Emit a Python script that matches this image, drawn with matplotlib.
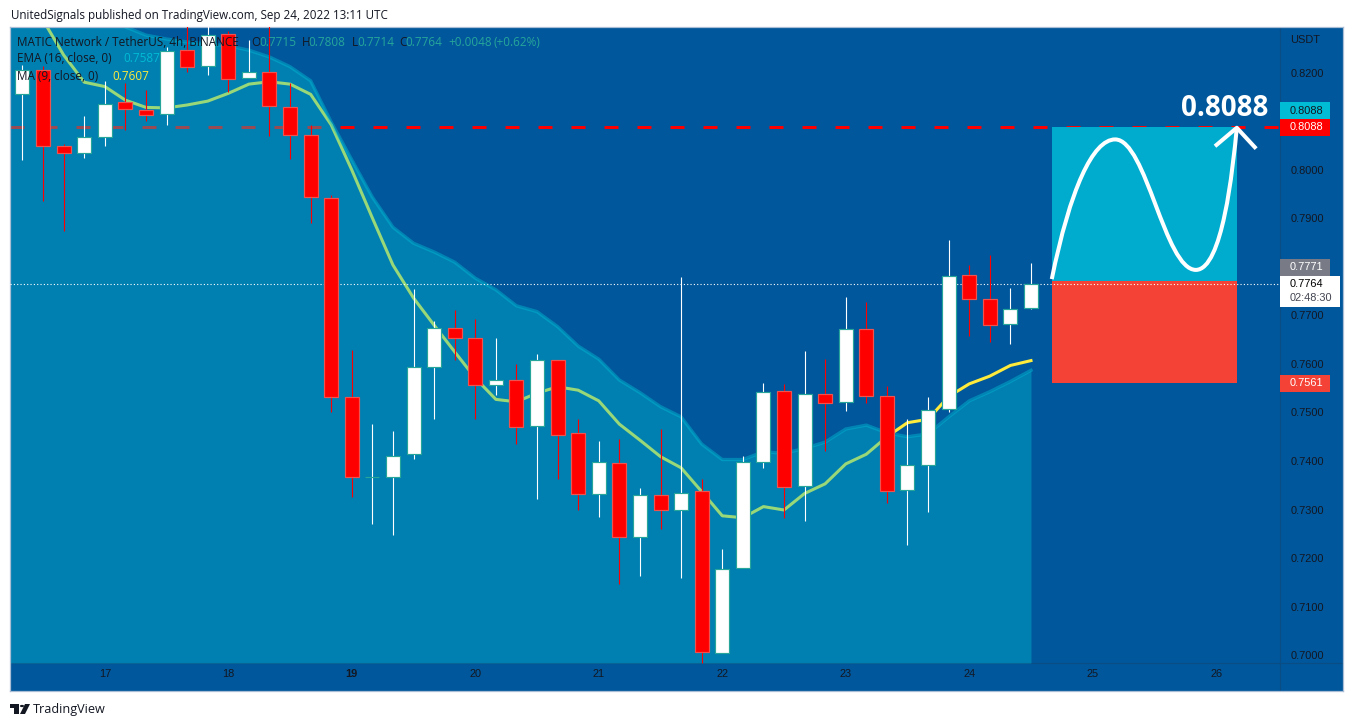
import numpy as np
from matplotlib import pyplot as plt
from matplotlib.patches import Rectangle, Polygon, Circle, PathPatch
from matplotlib.path import Path

# 4h candles
opens = [0.8156, 0.8206, 0.8049, 0.8034, 0.8068, 0.8141, 0.8124, 0.8115, 0.8247, 0.8214,
         0.8280, 0.8189, 0.8201, 0.8129, 0.8072, 0.7942, 0.7531, 0.7368, 0.7368, 0.7414,
         0.7593, 0.7674, 0.7653, 0.7557, 0.7566, 0.7472, 0.7608, 0.7457, 0.7331, 0.7395,
         0.7244, 0.7329, 0.7300, 0.7338, 0.7004, 0.7179, 0.7397, 0.7544, 0.7348, 0.7539,
         0.7521, 0.7672, 0.7533, 0.7340, 0.7391, 0.7507, 0.7783, 0.7733, 0.7682, 0.7715]
highs = [0.8216, 0.8215, 0.8054, 0.8111, 0.8184, 0.8179, 0.8165, 0.8254, 0.8300, 0.8300,
         0.8287, 0.8268, 0.8300, 0.8179, 0.8092, 0.7948, 0.7629, 0.7476, 0.7462, 0.7755,
         0.7688, 0.7711, 0.7692, 0.7654, 0.7600, 0.7621, 0.7608, 0.7486, 0.7441, 0.7445,
         0.7344, 0.7466, 0.7779, 0.7362, 0.7218, 0.7410, 0.7560, 0.7559, 0.7626, 0.7610,
         0.7738, 0.7728, 0.7555, 0.7486, 0.7531, 0.7856, 0.7804, 0.7824, 0.7757, 0.7808]
lows = [0.8021, 0.7936, 0.7875, 0.8025, 0.8050, 0.8083, 0.8102, 0.8093, 0.8203, 0.8196,
        0.8161, 0.8189, 0.8071, 0.8023, 0.7891, 0.7500, 0.7326, 0.7271, 0.7247, 0.7404,
        0.7487, 0.7608, 0.7486, 0.7536, 0.7436, 0.7322, 0.7363, 0.7299, 0.7285, 0.7146,
        0.7163, 0.7260, 0.7159, 0.6984, 0.7004, 0.7179, 0.7386, 0.7283, 0.7276, 0.7421,
        0.7503, 0.7520, 0.7313, 0.7227, 0.7295, 0.7500, 0.7658, 0.7646, 0.7641, 0.7714]
closes = [0.8206, 0.8049, 0.8034, 0.8069, 0.8137, 0.8125, 0.8114, 0.8246, 0.8213, 0.8279,
          0.8187, 0.8201, 0.8131, 0.8072, 0.7944, 0.7531, 0.7368, 0.7368, 0.7411, 0.7593,
          0.7674, 0.7654, 0.7557, 0.7566, 0.7471, 0.7608, 0.7454, 0.7331, 0.7397, 0.7244,
          0.7329, 0.7300, 0.7335, 0.7006, 0.7178, 0.7397, 0.7543, 0.7347, 0.7539, 0.7519,
          0.7672, 0.7533, 0.7338, 0.7392, 0.7506, 0.7782, 0.7735, 0.7681, 0.7714, 0.7764]

# ema starts one bar before the first candle
ema16 = [0.8450, 0.8430, 0.8410, 0.8390, 0.8360, 0.8320, 0.8295, 0.8278, 0.8270, 0.8264, 0.8260,
         0.8256, 0.8247, 0.8233, 0.8213, 0.8184, 0.8099, 0.8021, 0.7944, 0.7882, 0.7849,
         0.7831, 0.7810, 0.7777, 0.7753, 0.7720, 0.7708, 0.7677, 0.7637, 0.7610, 0.7567,
         0.7541, 0.7512, 0.7491, 0.7435, 0.7403, 0.7403, 0.7419, 0.7416, 0.7426, 0.7439,
         0.7466, 0.7474, 0.7458, 0.7450, 0.7456, 0.7491, 0.7524, 0.7543, 0.7564, 0.7587]
ma9 = [0.8400, 0.8309, 0.8237, 0.8181, 0.8172, 0.8144, 0.8129, 0.8128, 0.8134, 0.8142,
       0.8158, 0.8177, 0.8182, 0.8177, 0.8156, 0.8093, 0.8000, 0.7901, 0.7804, 0.7736,
       0.7680, 0.7625, 0.7571, 0.7527, 0.7522, 0.7540, 0.7553, 0.7546, 0.7524, 0.7476,
       0.7443, 0.7409, 0.7386, 0.7337, 0.7287, 0.7283, 0.7306, 0.7299, 0.7333, 0.7353,
       0.7394, 0.7414, 0.7450, 0.7479, 0.7486, 0.7533, 0.7559, 0.7575, 0.7597, 0.7607]

# hand drawn path in the projection box, bezier anchors and handles
path_bars = [50.01, 50.9, 52.0, 53.09, 54.6, 55.5, 57.01, 58.3, 58.8, 59.0]
path_prices = [0.7775, 0.7960, 0.8063, 0.8063, 0.8063, 0.7794, 0.7794, 0.7794, 0.8000, 0.8087]
arrow_bars = [57.94, 59.0, 59.94]
arrow_prices = [0.8049, 0.8087, 0.8044]

price_ticks = [0.82, 0.81, 0.80, 0.79, 0.78, 0.77, 0.76, 0.75, 0.74, 0.73, 0.72, 0.71, 0.70]
price_labels = ['0.8200', '', '0.8000', '0.7900', '', '0.7700', '0.7600', '0.7500',
                '0.7400', '0.7300', '0.7200', '0.7100', '0.7000']
day_bars = [4, 10, 16, 22, 28, 34, 40, 46, 52, 58]
day_labels = ['17', '18', '19', '20', '21', '22', '23', '24', '25', '26']

target = 0.8088
last_price = 0.7764
entry = 0.7771
stop = 0.7561

W, H = 1354, 727
BG = '#01579b'
TEAL = '#00bcd4'
RED = '#ff0000'
DARK = '#131722'
plt.rcParams['font.family'] = ['Liberation Sans', 'DejaVu Sans']

fig = plt.figure(figsize=(W / 100, H / 100), dpi=100, facecolor='white')
# panel runs x 10-1343, y 27-691 in pixels
ax = fig.add_axes([10 / W, 1 - 691 / H, 1333 / W, 664 / H], facecolor=BG)
ax.set_xlim(-0.607, 64.16)
ax.set_ylim(0.69258, 0.82948)
for s in ax.spines.values():
    s.set_color('#a9bdd4')
    s.set_linewidth(0.9)

bars = np.arange(len(opens))
ema_bars = np.arange(-1, len(opens))
area_floor = 0.69835
scale_left = 61.1

ax.axhline(area_floor, color='#0a4d85', lw=0.8, zorder=1)
ax.axvline(scale_left, color='#0a4d85', lw=0.8, zorder=1)

# target line sits under the area
ax.plot([-0.607, scale_left], [target, target], color=RED, lw=2.16, dashes=(14 / 3, 19 / 3),
        dash_capstyle='butt', zorder=1.2)
ax.plot(bars, ma9, color='#ffeb3b', lw=2.2, zorder=1.5)
ax.fill_between(ema_bars, ema16, area_floor, color=TEAL, alpha=0.4, lw=0, zorder=2)
ax.plot(ema_bars, ema16, color=TEAL, alpha=0.45, lw=2.4, zorder=2.1)

# projection box
ax.add_patch(Rectangle((50, entry), 9, target - entry, color='#00acce', lw=0, zorder=2.5))
ax.add_patch(Rectangle((50, stop), 9, entry - stop, color='#f44336', lw=0, zorder=2.5))
codes = [Path.MOVETO] + [Path.CURVE4] * (len(path_bars) - 1)
ax.add_patch(PathPatch(Path(np.column_stack([path_bars, path_prices]), codes), fill=False,
                       edgecolor='white', lw=2.9, capstyle='butt', zorder=4))
ax.plot(arrow_bars, arrow_prices, color='white', lw=2.9, zorder=4, solid_capstyle='butt')

ax.plot([-0.607, scale_left], [last_price, last_price], color='white', lw=0.8,
        dashes=(1, 2), zorder=3)

# candles
for i in bars:
    up = closes[i] >= opens[i]
    face = 'white' if up else RED
    edge = '#26a69a' if up else '#ef5350'
    ax.vlines(i, lows[i], highs[i], color=face, lw=0.8, zorder=5)
    ax.bar(i, closes[i] - opens[i], bottom=opens[i], width=0.68, color=face,
           edgecolor=edge, linewidth=0.85, zorder=6)

# axes labels live inside the panel
ax.yaxis.tick_right()
ax.set_yticks(price_ticks)
ax.set_yticklabels(price_labels)
ax.tick_params(axis='y', length=0, pad=-38, labelsize=7.9, labelcolor=DARK)
ax.set_xticks(day_bars)
ax.set_xticklabels(day_labels)
ax.tick_params(axis='x', length=0, pad=-15.5, labelsize=7.9, labelcolor=DARK)
ax.get_xticklabels()[2].set_fontweight('bold')
for lab in ax.get_xticklabels():
    lab.set_va('top')


def px(x, y):
    return x / W, 1 - y / H


def tag(y0, y1, x1, color, rows):
    fig.add_artist(Rectangle(px(1280, y1), (x1 - 1280) / W, (y1 - y0) / H, color=color, lw=0,
                             transform=fig.transFigure, zorder=8))
    for ty, txt, col in rows:
        fig.text(*px(1290, ty), txt, color=col, fontsize=7.9, va='center', ha='left', zorder=9)


tag(102, 119, 1330, TEAL, [(110.5, '0.8088', DARK)])
tag(119, 136, 1330, RED, [(127.5, '0.8088', 'white')])
tag(259, 276, 1330, '#787b86', [(267.5, '0.7771', 'white')])
tag(276, 307, 1340, 'white', [(284, '0.7764', 'black'), (298, '02:48:30', '#434651')])
tag(375, 392, 1330, '#f44336', [(383.5, '0.7561', 'white')])
fig.text(*px(1290, 40), 'USDT', color=DARK, fontsize=7.9, va='center', zorder=9)

fig.text(*px(1225, 108), '0.8088', color='white', fontsize=20, fontweight='bold', ha='center',
         va='center', family='Open Sans', zorder=9)

# header / legend
fig.text(*px(11, 15), 'UnitedSignals published on TradingView.com, Sep 24, 2022 13:11 UTC',
         color=DARK, fontsize=8.42, va='center', family='Open Sans')
VAL = '#26a69a'
legend_rows = [
    (17, 42, 'MATIC Network / TetherUS, 4h, BINANCE', DARK),
    (251, 42, 'O', DARK), (259, 42, '0.7715', VAL),
    (302, 42, 'H', DARK), (308.6, 42, '0.7808', VAL),
    (352, 42, 'L', DARK), (357, 42, '0.7714', VAL),
    (399, 42, 'C', DARK), (405, 42, '0.7764', VAL),
    (448, 42, '+0.0048', VAL), (493, 42, '(+0.62%)', VAL),
    (17, 59, 'EMA (16, close, 0)', DARK), (123.6, 59, '0.7587', TEAL),
    (17, 76, 'MA (9, close, 0)', DARK), (112, 76, '0.7607', '#ffeb3b'),
]
for x, y, txt, col in legend_rows:
    fig.text(*px(x, y), txt, color=col, fontsize=8.5, va='center', family='Open Sans', zorder=9)

# footer logo
logo = [
    [(10, 704), (19, 704), (19, 714), (14, 714), (14, 708), (10, 708)],
    [(25, 704), (30, 704), (25, 714), (20, 714)],
]
for pts in logo:
    fig.add_artist(Polygon([px(*p) for p in pts], color=DARK, lw=0, transform=fig.transFigure))
fig.add_artist(Circle(px(22, 706), 2.1 / W, color=DARK, lw=0, transform=fig.transFigure))
fig.text(*px(33, 709), 'TradingView', color=DARK, fontsize=9.1, va='center', family='Open Sans')

fig.savefig('out.png', dpi=100)
